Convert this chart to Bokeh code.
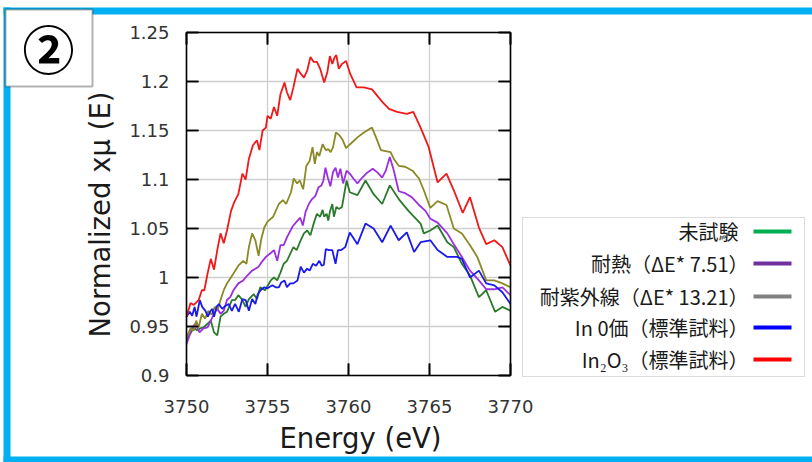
import math
from bokeh.plotting import figure
from bokeh.models import (ColumnDataSource, LinearAxis, Range1d, BoxAnnotation,
                          Label, FixedTicker)
from bokeh.embed import file_html
from bokeh.resources import INLINE

# ---------------- data ----------------
x_ticks = [3750, 3755, 3760, 3765, 3770]
y_ticks = [0.9, 0.95, 1.0, 1.05, 1.1, 1.15, 1.2, 1.25]
y_tick_labels = ["0.9", "0.95", "1", "1.05", "1.1", "1.15", "1.2", "1.25"]

x_title = "Energy (eV)"
y_title = "Normalized xμ (E)"
panel_mark = "②"

legend_labels = ["未試験", "耐熱（ΔE* 7.51）", "耐紫外線（ΔE* 13.21）",
                 "In 0価（標準試料）", "In₂O₃（標準試料）"]
legend_colors = ["#00b050", "#7030a0", "#808080", "#0000ff", "#ff0000"]
line_colors = ["#2b7a2b", "#9b30e0", "#8a8a26", "#1a1aee", "#f01818"]

e_green = [3750.0, 3750.25, 3750.45, 3750.65, 3750.85, 3751.05, 3751.3, 3751.5, 3751.7, 3751.9,
           3752.1, 3752.3, 3752.5, 3752.8, 3753.0, 3753.2, 3753.45, 3753.65, 3753.85, 3754.15,
           3754.35, 3754.55, 3754.85, 3755.2, 3755.4, 3755.6, 3755.8, 3756.0, 3756.2, 3756.4,
           3756.6, 3756.8, 3757.05, 3757.25, 3757.45, 3757.65, 3757.85, 3758.05, 3758.25, 3758.4,
           3758.5, 3758.65, 3758.75, 3758.85, 3759.0, 3759.1, 3759.25, 3759.4, 3759.6, 3759.88,
           3760.08, 3760.55, 3761.05, 3761.55, 3762.08, 3762.55, 3763.1, 3763.7, 3764.45, 3764.65,
           3765.05, 3765.5, 3766.1, 3766.5, 3767.0, 3767.5, 3768.05, 3768.5, 3769.05, 3769.5,
           3770.0]
v_green = [0.937, 0.943, 0.949, 0.946, 0.948, 0.949, 0.953, 0.956, 0.944, 0.941,
           0.960, 0.963, 0.965, 0.977, 0.977, 0.982, 0.977, 0.970, 0.978, 0.983,
           0.978, 0.990, 0.987, 0.997, 1.000, 0.997, 1.005, 1.014, 1.017, 1.024,
           1.031, 1.028, 1.038, 1.045, 1.048, 1.043, 1.055, 1.065, 1.062, 1.069,
           1.062, 1.065, 1.058, 1.067, 1.075, 1.062, 1.072, 1.070, 1.072, 1.099,
           1.087, 1.084, 1.099, 1.085, 1.075, 1.094, 1.080, 1.068, 1.055, 1.045,
           1.048, 1.053, 1.036, 1.031, 1.014, 1.002, 0.980, 0.987, 0.965, 0.970,
           0.966]

e_purple = [3750.0, 3750.15, 3750.35, 3750.55, 3750.8, 3751.05, 3751.3, 3751.5, 3751.7, 3751.9,
            3752.1, 3752.3, 3752.5, 3752.7, 3752.9, 3753.2, 3753.5, 3753.75, 3754.05, 3754.25,
            3754.45, 3754.65, 3754.9, 3755.2, 3755.4, 3755.6, 3755.8, 3756.0, 3756.2, 3756.55,
            3756.8, 3757.02, 3757.18, 3757.35, 3757.55, 3757.75, 3757.95, 3758.15, 3758.33, 3758.45,
            3758.58, 3758.72, 3758.88, 3759.05, 3759.2, 3759.35, 3759.5, 3759.67, 3759.88, 3760.08,
            3760.3, 3760.55, 3760.85, 3761.15, 3761.5, 3761.8, 3762.08, 3762.3, 3762.55, 3762.8,
            3763.1, 3763.5, 3763.9, 3764.35, 3764.75, 3765.05, 3765.5, 3766.1, 3766.5, 3767.0,
            3767.5, 3768.05, 3768.5, 3769.0, 3769.5, 3770.0]
v_purple = [0.932, 0.939, 0.949, 0.953, 0.944, 0.948, 0.949, 0.956, 0.963, 0.968,
            0.963, 0.966, 0.977, 0.980, 0.987, 0.994, 0.997, 1.002, 1.007, 1.009,
            1.011, 1.016, 1.021, 1.025, 1.028, 1.017, 1.033, 1.033, 1.041, 1.052,
            1.057, 1.061, 1.053, 1.067, 1.075, 1.080, 1.083, 1.092, 1.094, 1.099,
            1.112, 1.102, 1.093, 1.108, 1.112, 1.102, 1.111, 1.096, 1.109, 1.106,
            1.101, 1.096, 1.102, 1.107, 1.111, 1.107, 1.102, 1.109, 1.123, 1.109,
            1.088, 1.086, 1.082, 1.074, 1.068, 1.060, 1.056, 1.045, 1.034, 1.021,
            1.007, 0.997, 0.988, 0.988, 0.990, 0.982]

e_olive = [3750.0, 3750.25, 3750.45, 3750.6, 3750.75, 3750.95, 3751.15, 3751.35, 3751.55, 3751.75,
           3751.95, 3752.1, 3752.3, 3752.5, 3752.7, 3752.9, 3753.2, 3753.5, 3753.7, 3753.85,
           3754.05, 3754.25, 3754.45, 3754.6, 3754.8, 3755.0, 3755.35, 3755.7, 3755.95, 3756.15,
           3756.45, 3756.62, 3756.83, 3757.0, 3757.2, 3757.4, 3757.6, 3757.78, 3757.92, 3758.05,
           3758.2, 3758.4, 3758.6, 3758.75, 3758.9, 3759.05, 3759.22, 3759.45, 3759.65, 3759.85,
           3760.1, 3760.55, 3760.95, 3761.45, 3761.7, 3762.0, 3762.3, 3762.6, 3762.8, 3763.1,
           3763.5, 3763.95, 3764.35, 3764.65, 3765.05, 3765.5, 3766.05, 3766.5, 3767.0, 3767.5,
           3767.95, 3768.5, 3769.0, 3769.5, 3770.0]
v_olive = [0.939, 0.948, 0.946, 0.956, 0.949, 0.963, 0.958, 0.966, 0.962, 0.970,
           0.968, 0.977, 0.987, 0.994, 0.999, 1.004, 1.012, 1.017, 1.014, 1.031,
           1.045, 1.038, 1.022, 1.038, 1.051, 1.057, 1.062, 1.075, 1.079, 1.075,
           1.087, 1.101, 1.096, 1.099, 1.090, 1.114, 1.119, 1.133, 1.116, 1.128,
           1.124, 1.136, 1.130, 1.131, 1.128, 1.133, 1.148, 1.145, 1.140, 1.132,
           1.136, 1.143, 1.148, 1.153, 1.143, 1.130, 1.129, 1.128, 1.121, 1.114,
           1.113, 1.109, 1.101, 1.089, 1.071, 1.078, 1.074, 1.050, 1.045, 1.033,
           1.021, 0.997, 0.997, 0.994, 0.990]

e_blue = [3750.0, 3750.2, 3750.35, 3750.5, 3750.62, 3750.82, 3750.97, 3751.17, 3751.32, 3751.45,
          3751.6, 3751.7, 3751.85, 3752.0, 3752.2, 3752.4, 3752.6, 3752.8, 3753.0, 3753.23,
          3753.45, 3753.65, 3753.85, 3754.05, 3754.25, 3754.4, 3754.57, 3754.8, 3755.0, 3755.3,
          3755.5, 3755.7, 3755.85, 3756.05, 3756.2, 3756.4, 3756.6, 3756.85, 3757.05, 3757.25,
          3757.45, 3757.6, 3757.8, 3758.0, 3758.2, 3758.35, 3758.48, 3758.6, 3758.8, 3759.0,
          3759.2, 3759.35, 3759.55, 3759.8, 3760.08, 3760.55, 3761.05, 3761.55, 3762.08, 3762.6,
          3763.1, 3763.6, 3764.05, 3764.45, 3765.05, 3765.5, 3766.1, 3766.7, 3767.0, 3767.5,
          3768.05, 3768.5, 3769.0, 3769.5, 3770.0]
v_blue = [0.960, 0.965, 0.961, 0.970, 0.960, 0.977, 0.970, 0.966, 0.960, 0.965,
          0.968, 0.960, 0.970, 0.973, 0.968, 0.971, 0.973, 0.966, 0.973, 0.965,
          0.978, 0.977, 0.966, 0.978, 0.973, 0.983, 0.987, 0.990, 0.989, 0.992,
          0.990, 0.990, 0.995, 0.997, 0.990, 0.994, 0.994, 0.997, 1.011, 1.005,
          1.009, 1.007, 1.014, 1.012, 1.017, 1.012, 1.013, 1.029, 1.028, 1.028,
          1.014, 1.028, 1.028, 1.031, 1.046, 1.034, 1.055, 1.050, 1.036, 1.053,
          1.038, 1.046, 1.026, 1.036, 1.038, 1.028, 1.021, 1.021, 1.019, 1.000,
          1.007, 0.994, 0.992, 0.985, 0.973]

e_red = [3750.0, 3750.25, 3750.45, 3750.75, 3750.95, 3751.1, 3751.3, 3751.5, 3751.7, 3751.9,
         3752.1, 3752.3, 3752.5, 3752.75, 3752.95, 3753.2, 3753.45, 3753.65, 3753.85, 3754.1,
         3754.35, 3754.5, 3754.7, 3754.9, 3755.0, 3755.2, 3755.4, 3755.6, 3755.8, 3756.05,
         3756.2, 3756.4, 3756.6, 3756.85, 3757.05, 3757.25, 3757.45, 3757.65, 3757.85, 3758.05,
         3758.25, 3758.5, 3758.7, 3758.85, 3759.0, 3759.15, 3759.25, 3759.4, 3759.6, 3759.85,
         3760.1, 3760.5, 3760.95, 3761.45, 3762.1, 3762.5, 3763.0, 3763.6, 3764.0, 3764.45,
         3764.95, 3765.5, 3766.05, 3766.5, 3767.05, 3767.5, 3768.05, 3768.5, 3769.0, 3769.5,
         3770.0]
v_red = [0.960, 0.974, 0.972, 0.977, 0.987, 0.987, 1.004, 1.019, 1.008, 1.028,
         1.045, 1.035, 1.048, 1.068, 1.077, 1.085, 1.106, 1.100, 1.121, 1.135,
         1.140, 1.130, 1.150, 1.153, 1.165, 1.162, 1.174, 1.165, 1.187, 1.199,
         1.189, 1.181, 1.194, 1.213, 1.208, 1.204, 1.211, 1.225, 1.220, 1.220,
         1.213, 1.199, 1.210, 1.226, 1.218, 1.225, 1.227, 1.213, 1.218, 1.221,
         1.208, 1.194, 1.194, 1.192, 1.179, 1.172, 1.169, 1.167, 1.169, 1.153,
         1.133, 1.097, 1.106, 1.089, 1.066, 1.082, 1.051, 1.034, 1.038, 1.031,
         1.012]

series = [(e_green, v_green), (e_purple, v_purple), (e_olive, v_olive),
          (e_blue, v_blue), (e_red, v_red)]

# ---------------- layout (page pixels) ----------------
W, H = 812, 462
PL, PR, PT, PB = 186, 510, 32, 375          # chart box edges on the page
XMIN, XMAX = x_ticks[0], x_ticks[-1]
YMIN, YMAX = y_ticks[0], y_ticks[-1]
KX = (PR - PL) / (XMAX - XMIN)              # px per eV
KY = (PB - PT) / (YMAX - YMIN)              # px per unit
TICK = 12                                   # inward tick length, px

def dx(px):
    return XMIN + (px - PL) / KX

def dy(py):
    return YMIN + (PB - py) / KY

p = figure(width=W, height=H, output_backend="svg", toolbar_location=None,
           x_range=Range1d(dx(0), dx(W)), y_range=Range1d(dy(H), dy(0)),
           min_border=0, min_border_left=0, min_border_right=0,
           min_border_top=0, min_border_bottom=0)
p.background_fill_color = "white"
p.border_fill_color = "white"
p.outline_line_color = None
p.xgrid.visible = False
p.ygrid.visible = False

xt = FixedTicker(ticks=x_ticks)
yt = FixedTicker(ticks=y_ticks)

def style_axis(ax):
    ax.major_tick_in = TICK
    ax.major_tick_out = 0
    ax.minor_tick_in = 0
    ax.minor_tick_out = 0
    ax.axis_line_color = "black"
    ax.axis_line_width = 1.6
    ax.major_tick_line_color = "black"
    ax.major_tick_line_width = 1.6
    ax.major_label_text_font = "DejaVu Sans"
    ax.major_label_text_font_size = "18px"
    ax.major_label_text_color = "#333333"

bx = p.xaxis[0]
by = p.yaxis[0]
style_axis(bx)
style_axis(by)
bx.ticker = xt
by.ticker = yt
bx.fixed_location = YMIN
by.fixed_location = XMIN
bx.bounds = (XMIN, XMAX)
by.bounds = (YMIN, YMAX)
by.major_label_overrides = {t: s for t, s in zip(y_ticks, y_tick_labels)}
bx.major_label_standoff = 24
by.major_label_standoff = 17

top_ax = LinearAxis(ticker=xt, fixed_location=YMAX, bounds=(XMIN, XMAX))
right_ax = LinearAxis(ticker=yt, fixed_location=XMAX, bounds=(YMIN, YMAX))
for a in (top_ax, right_ax):
    style_axis(a)
    a.major_label_text_color = None
    a.major_label_text_font_size = "2px"
    a.major_label_standoff = 0
p.add_layout(top_ax, "above")
p.add_layout(right_ax, "right")

# grid lines at the tick positions, limited to the chart box
nx, ny = len(x_ticks), len(y_ticks)
p.segment(x0=x_ticks, y0=[YMIN] * nx, x1=x_ticks, y1=[YMAX] * nx,
          line_color="#cfcfcf", line_width=1.3)
p.segment(x0=[XMIN] * ny, y0=y_ticks, x1=[XMAX] * ny, y1=y_ticks,
          line_color="#cfcfcf", line_width=1.3)

# inward tick marks on all four sides (gnuplot style mirror ticks)
ty = TICK / KY
tx = TICK / KX
p.segment(x0=x_ticks + x_ticks, y0=[YMIN] * nx + [YMAX] * nx,
          x1=x_ticks + x_ticks, y1=[YMIN + ty] * nx + [YMAX - ty] * nx,
          line_color="black", line_width=1.6)
p.segment(x0=[XMIN] * ny + [XMAX] * ny, y0=y_ticks + y_ticks,
          x1=[XMIN + tx] * ny + [XMAX - tx] * ny, y1=y_ticks + y_ticks,
          line_color="black", line_width=1.6)

for (e, v), c in zip(series, line_colors):
    src = ColumnDataSource(data=dict(x=e, y=v))
    p.line("x", "y", source=src, line_color=c, line_width=1.8)

# axis titles
p.add_layout(Label(x=dx(360), y=dy(437), text=x_title, text_align="center",
                   text_baseline="alphabetic", text_font="DejaVu Sans",
                   text_font_size="27.5px", text_color="#1a1a1a"))
p.add_layout(Label(x=dx(99), y=dy(214), text=y_title, angle=math.pi / 2,
                   text_align="center", text_baseline="alphabetic",
                   text_font="DejaVu Sans", text_font_size="27.5px", text_color="#1a1a1a"))

# ---------------- frame decoration ----------------
BLUE = "#00b0f0"
def box(l, r, t, b, **kw):
    p.add_layout(BoxAnnotation(left=dx(l), right=dx(r), top=dy(t), bottom=dy(b), **kw))

box(3, W, 7, 14, fill_color=BLUE, fill_alpha=1, line_alpha=0)
box(3, 10, 7, H, fill_color=BLUE, fill_alpha=1, line_alpha=0)
box(3, W, 456, H, fill_color=BLUE, fill_alpha=1, line_alpha=0)
box(5, 92, 9, 86, fill_color="white", fill_alpha=1, line_color="black", line_width=2)
p.add_layout(Label(x=dx(48), y=dy(47), text=panel_mark, text_align="center",
                   text_baseline="middle", text_font="Noto Sans CJK JP",
                   text_font_style="bold", text_font_size="52px", text_color="black"))

# ---------------- legend (manual) ----------------
box(522, 804, 217, 376, fill_color="white", fill_alpha=1, line_color="#8c8c8c", line_width=1)
rows = [231, 263, 296, 327, 359]
for lab, col, ry in zip(legend_labels, legend_colors, rows):
    ax_ = 748 if lab.endswith("）") else 738
    p.add_layout(Label(x=dx(ax_), y=dy(ry), text=lab, text_align="right",
                       text_baseline="middle", text_font="Noto Sans CJK JP",
                       text_font_size="20px", text_color="#1a1a1a"))
    box(753, 791, ry - 2, ry + 2, fill_color=col, fill_alpha=1, line_alpha=0)

open("out.html", "w").write(file_html(p, INLINE))
